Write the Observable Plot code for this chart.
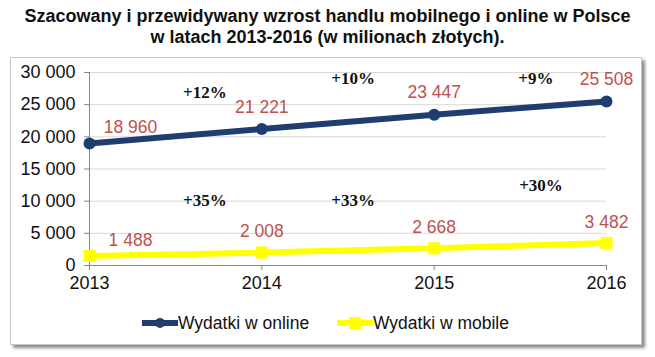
<!DOCTYPE html>
<html>
<head>
<meta charset="utf-8">
<script src="https://cdn.jsdelivr.net/npm/d3@7"></script>
<script src="https://cdn.jsdelivr.net/npm/@observablehq/plot@0.6"></script>
<style>
  html, body { margin: 0; padding: 0; background: #fff; }
  body { width: 655px; height: 357px; position: relative; overflow: hidden; font-family: "Liberation Sans", Arial, sans-serif; }
  #title { position: absolute; left: 0; top: 6px; width: 655px; text-align: center; font-weight: bold; font-size: 18px; line-height: 21px; color: #111; }
  #box { position: absolute; left: 10px; top: 57px; width: 630px; height: 286px; border: 1px solid #c8c8c8; box-shadow: 3px 3px 3px #8a8a8a; background: #fff; }
  #chart { position: absolute; left: 0; top: 57px; }
  #legend { position: absolute; top: 312px; left: 0; width: 655px; height: 22px; font-size: 17.5px; color: #111; }
  .item { position: absolute; top: 0; display: flex; align-items: center; height: 22px; }
</style>
</head>
<body>
<div id="title">Szacowany i przewidywany wzrost handlu mobilnego i online w Polsce<br>w latach 2013-2016 (w milionach złotych).</div>
<div id="box"></div>
<div id="chart"></div>
<div id="legend"></div>
<script>
const years = [2013, 2014, 2015, 2016];
const online = [18960, 21221, 23447, 25508];
const mobile = [1488, 2008, 2668, 3482];
const yTicks = [0, 5000, 10000, 15000, 20000, 25000, 30000];
const seriesNames = ["Wydatki w online", "Wydatki w mobile"];
const pctOnline = ["+12%", "+10%", "+9%"];
const pctOnlineX = [2013.67, 2014.53, 2015.59];
const pctOnlineY = [26900, 29070, 29070];
const pctMobile = ["+35%", "+33%", "+30%"];
const pctMobileX = [2013.67, 2014.53, 2015.62];
const pctMobileY = [10100, 10100, 12450];

const navy = "#1f3d6e";
const yellow = "#ffff00";
const red = "#c0504d";

const fmt = d3.formatLocale({decimal: ",", thousands: " ", grouping: [3], currency: ["", ""]}).format(",d");

const onlineData = years.map((y, i) => ({year: y, value: online[i]}));
const mobileData = years.map((y, i) => ({year: y, value: mobile[i]}));
const pctData = pctOnline.map((t, i) => ({text: t, x: pctOnlineX[i], y: pctOnlineY[i]}))
  .concat(pctMobile.map((t, i) => ({text: t, x: pctMobileX[i], y: pctMobileY[i]})));

const labelFont = {fontSize: 17.5, fill: red};

const chart = Plot.plot({
  width: 655,
  height: 240,
  marginLeft: 89,
  marginRight: 49,
  marginTop: 15,
  marginBottom: 32,
  style: {fontFamily: "Liberation Sans, Arial, sans-serif", fontSize: "18px", color: "#111", background: "transparent"},
  x: {domain: [2013, 2016], ticks: years, tickFormat: d => String(d)},
  y: {domain: [0, 30000], ticks: yTicks, tickFormat: fmt},
  marks: [
    Plot.gridY(yTicks, {stroke: "#d9d9d9", strokeOpacity: 1}),
    Plot.ruleY([0], {stroke: "#868686"}),
    Plot.ruleX([2013], {stroke: "#868686"}),
    Plot.axisY(yTicks, {tickSize: 5, tickPadding: 9, stroke: "#868686", tickFormat: fmt, fill: "#111", fontSize: 18}),
    Plot.axisX(years, {tickSize: 5, tickPadding: 6, stroke: "#868686", tickFormat: d => String(d), fill: "#111", fontSize: 18}),
    Plot.line(mobileData, {x: "year", y: "value", stroke: yellow, strokeWidth: 6}),
    Plot.dot(mobileData, {x: "year", y: "value", symbol: "square", r: 6.8, fill: yellow}),
    Plot.line(onlineData, {x: "year", y: "value", stroke: navy, strokeWidth: 6}),
    Plot.dot(onlineData, {x: "year", y: "value", r: 6, fill: navy}),
    Plot.text(onlineData.slice(0, 1), {x: "year", y: "value", text: d => fmt(d.value), dx: 41, dy: -16, ...labelFont}),
    Plot.text(onlineData.slice(1), {x: "year", y: "value", text: d => fmt(d.value), dy: -22, ...labelFont}),
    Plot.text(mobileData.slice(0, 1), {x: "year", y: "value", text: d => fmt(d.value), dx: 41, dy: -16, ...labelFont}),
    Plot.text(mobileData.slice(1), {x: "year", y: "value", text: d => fmt(d.value), dy: -21, ...labelFont}),
    Plot.text(pctData, {x: "x", y: "y", text: "text", fontFamily: "Liberation Serif, Times New Roman, serif", fontWeight: "bold", fontSize: 17, fill: "#111"})
  ]
});
document.getElementById("chart").appendChild(chart);

// Legend
const legend = document.getElementById("legend");
const items = [
  {name: seriesNames[0], color: navy, left: 142, marker: "circle"},
  {name: seriesNames[1], color: yellow, left: 337, marker: "square"}
];
for (const it of items) {
  const div = document.createElement("div");
  div.className = "item";
  div.style.left = it.left + "px";
  const markerSvg = it.marker === "circle"
    ? `<circle cx="18" cy="11" r="5" fill="${it.color}"/>`
    : `<rect x="12" y="5" width="12" height="12" fill="${it.color}"/>`;
  div.innerHTML = `<svg width="36" height="22"><line x1="0" x2="36" y1="11" y2="11" stroke="${it.color}" stroke-width="6"/>${markerSvg}</svg><span>${it.name}</span>`;
  legend.appendChild(div);
}
</script>
</body>
</html>
